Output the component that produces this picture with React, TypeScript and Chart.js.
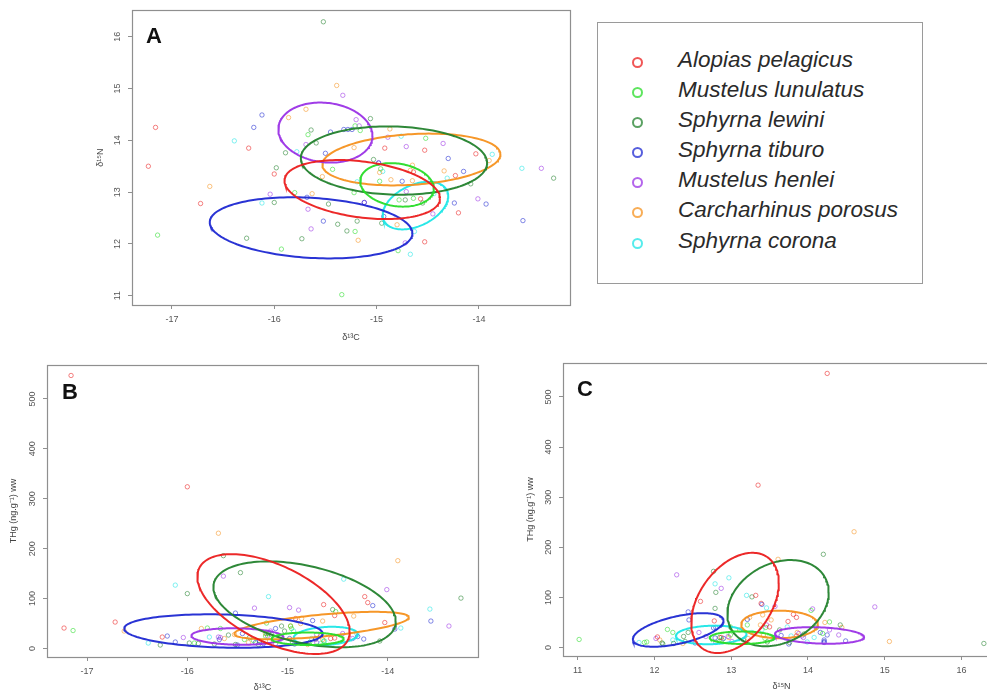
import React, { useEffect, useRef } from "react";
import { Chart, registerables } from "chart.js";
Chart.register(...registerables);

// ---------- categories / styling ----------
const speciesNames = [
  "Alopias pelagicus",
  "Mustelus lunulatus",
  "Sphyrna lewini",
  "Sphyrna tiburo",
  "Mustelus henlei",
  "Carcharhinus porosus",
  "Sphyrna corona",
];
const speciesRGB = [
  "235,30,30",
  "40,220,40",
  "35,130,45",
  "30,40,210",
  "155,50,230",
  "245,145,30",
  "30,230,230",
];

// ---------- specimen data (δ13C, δ15N, THg) ----------
const alopiasC13 = [-17.16, -17.23, -16.25, -16.0, -16.72, -14.92, -14.53, -14.03, -14.23, -14.57, -14.2, -14.53, -14.64];
const alopiasN15 = [14.25, 13.5, 13.85, 13.35, 12.78, 13.85, 13.81, 13.74, 13.32, 12.87, 12.6, 12.04, 13.39];
const alopiasTHg = [547, 41, 23, 324, 53, 60, 66, 52, 104, 20, 92, 21, 88];

const lunulatusC13 = [-15.67, -15.21, -15.16, -14.52, -14.96, -14.97, -14.78, -14.64, -14.79, -15.8, -15.21, -15.22, -15.93, -17.14, -15.34, -15.43];
const lunulatusN15 = [14.11, 14.28, 14.19, 14.04, 13.45, 13.21, 12.85, 12.88, 11.87, 12.99, 12.24, 12.99, 11.9, 12.17, 11.02, 13.44];
const lunulatusTHg = [40, 51, 28, 74, 40, 45, 12, 15, 10, 41, 30, 25, 11, 36, 16, 18];

const lewiniC13 = [-15.59, -15.89, -15.06, -15.03, -14.08, -13.27, -14.72, -14.55, -14.95, -15.98, -16.0, -15.38, -15.29, -15.19, -16.27, -15.73, -15.52, -15.64, -15.47];
const lewiniN15 = [13.95, 13.76, 14.42, 13.63, 13.16, 13.27, 12.85, 12.79, 12.4, 13.47, 12.8, 12.38, 12.25, 12.44, 12.11, 12.1, 16.29, 14.2, 12.77];
const lewiniTHg = [27, 10, 45, 35, 15, 101, 20, 78, 12, 11, 110, 22, 8, 30, 7, 9, 8, 186, 152];

const tiburoC13 = [-16.12, -16.2, -15.5, -15.45, -15.32, -15.28, -15.24, -14.3, -14.98, -14.75, -14.15, -14.24, -13.93, -13.57, -14.93, -15.68, -15.12, -15.52];
const tiburoN15 = [14.49, 14.25, 13.75, 14.16, 14.21, 14.21, 14.21, 13.65, 13.56, 13.21, 13.4, 12.79, 12.77, 12.45, 12.53, 12.9, 12.8, 12.44];
const tiburoTHg = [13, 25, 7, 30, 12, 15, 10, 24, 20, 56, 86, 19, 39, 55, 9, 18, 40, 71];

const henleiC13 = [-15.33, -15.69, -15.2, -15.17, -14.89, -14.71, -14.35, -14.98, -13.39, -14.71, -14.45, -14.01, -14.72, -16.04, -15.67, -15.64, -15.12];
const henleiN15 = [14.87, 13.92, 14.4, 14.28, 14.06, 13.88, 13.94, 13.57, 13.46, 13.01, 12.58, 12.87, 12.02, 12.96, 12.67, 12.29, 12.8];
const henleiTHg = [81, 23, 25, 35, 77, 28, 20, 82, 45, 12, 30, 118, 18, 22, 22, 145, 10];

const porosusC13 = [-15.39, -15.86, -15.69, -15.22, -14.87, -13.9, -14.86, -14.65, -14.67, -14.65, -14.34, -14.8, -16.63, -15.63, -15.18, -15.53, -14.97];
const porosusN15 = [15.06, 14.44, 14.6, 13.86, 14.22, 13.61, 13.24, 13.52, 13.42, 13.22, 13.41, 12.37, 13.11, 12.97, 12.07, 13.3, 13.38];
const porosusTHg = [12, 40, 231, 30, 50, 176, 60, 55, 25, 18, 65, 8, 35, 20, 15, 28, 45];

const coronaC13 = [-16.39, -15.78, -14.76, -13.87, -14.94, -14.31, -13.58, -14.67, -14.63, -16.12, -15.19, -14.44];
const coronaN15 = [13.99, 13.78, 14.08, 13.73, 13.4, 13.27, 13.46, 11.8, 12.24, 12.79, 13.2, 12.97];
const coronaTHg = [11, 23, 20, 41, 35, 30, 79, 10, 15, 127, 104, 139];

// ---------- ellipse parameters (per species, same order) ----------
const meanC13 = [-15.14, -14.8, -14.83, -15.64, -15.5, -14.66, -14.62];
const halfC13 = [0.76, 0.36, 0.91, 0.99, 0.46, 0.87, 0.32];
const meanN15 = [13.05, 13.14, 13.61, 12.31, 14.15, 13.63, 12.74];
const halfN15 = [0.57, 0.42, 0.66, 0.59, 0.58, 0.5, 0.46];
const meanTHg = [89, 19.5, 88.5, 35, 24, 46, 25];
const halfTHg = [100, 12.5, 86, 33.5, 16.5, 27.5, 18.5];
const rhoCN = [-0.3, -0.17, -0.07, -0.18, -0.11, 0.2, 0.4];
const rhoCHg = [-0.55, 0, -0.4, -0.15, -0.1, 0.6, 0.2];
const rhoNHg = [0.4, 0, 0.25, 0.55, -0.2, 0, 0.1];

// ---------- tick labels ----------
const c13Ticks = [-17, -16, -15, -14];
const n15Ticks = [11, 12, 13, 14, 15, 16];
const thgTicks = [0, 100, 200, 300, 400, 500];

const c13Sets = [alopiasC13, lunulatusC13, lewiniC13, tiburoC13, henleiC13, porosusC13, coronaC13];
const n15Sets = [alopiasN15, lunulatusN15, lewiniN15, tiburoN15, henleiN15, porosusN15, coronaN15];
const thgSets = [alopiasTHg, lunulatusTHg, lewiniTHg, tiburoTHg, henleiTHg, porosusTHg, coronaTHg];

const FRAME = "#8f8f8f";
const TICKCOL = "#555";
const FONT = "'Liberation Sans', Arial, sans-serif";

type VarKey = "C" | "N" | "H";

function valuesOf(k: VarKey) {
  return k === "C" ? c13Sets : k === "N" ? n15Sets : thgSets;
}
function meanOf(k: VarKey) {
  return k === "C" ? meanC13 : k === "N" ? meanN15 : meanTHg;
}
function halfOf(k: VarKey) {
  return k === "C" ? halfC13 : k === "N" ? halfN15 : halfTHg;
}
function rhoOf(a: VarKey, b: VarKey) {
  const key = a + b;
  if (key === "CN") return rhoCN;
  if (key === "CH") return rhoCHg;
  return rhoNHg;
}

function ellipse(cx: number, hx: number, cy: number, hy: number, rho: number) {
  const pts: { x: number; y: number }[] = [];
  const s = Math.sqrt(1 - rho * rho);
  const n = 160;
  for (let i = 0; i <= n; i++) {
    const t = (i / n) * 2 * Math.PI;
    pts.push({ x: cx + hx * Math.cos(t), y: cy + hy * (rho * Math.cos(t) + s * Math.sin(t)) });
  }
  return pts;
}

const framePlugin = {
  id: "frame",
  afterDraw(chart: any) {
    const { ctx, chartArea: a } = chart;
    ctx.save();
    ctx.strokeStyle = FRAME;
    ctx.lineWidth = 1.2;
    ctx.strokeRect(Math.round(a.left) + 0.5, Math.round(a.top) + 0.5, Math.round(a.width), Math.round(a.height));
    ctx.restore();
  },
};

type PanelSpec = {
  xKey: VarKey;
  yKey: VarKey;
  xMin: number;
  xMax: number;
  yMin: number;
  yMax: number;
  xTicks: number[];
  yTicks: number[];
  xTitle: string;
  yTitle: string;
  yAxisWidth: number;
  xAxisHeight: number;
  padding: { left: number; right: number; top: number; bottom: number };
  yTitlePad: number;
  xTitlePad: number;
  yTickPad: number;
  xTickPad: number;
};

function makeChart(canvas: HTMLCanvasElement, p: PanelSpec) {
  const xs = valuesOf(p.xKey);
  const ys = valuesOf(p.yKey);
  const datasets: any[] = [];
  speciesNames.forEach((name, i) => {
    datasets.push({
      label: name,
      data: xs[i].map((v, j) => ({ x: v, y: ys[i][j] })),
      showLine: false,
      pointRadius: 2.2,
      pointBorderWidth: 1,
      pointBackgroundColor: "rgba(0,0,0,0)",
      pointBorderColor: `rgba(${speciesRGB[i]},0.55)`,
      order: 2,
    });
  });
  speciesNames.forEach((name, i) => {
    datasets.push({
      label: name + " ellipse",
      data: ellipse(meanOf(p.xKey)[i], halfOf(p.xKey)[i], meanOf(p.yKey)[i], halfOf(p.yKey)[i], rhoOf(p.xKey, p.yKey)[i]),
      showLine: true,
      pointRadius: 0,
      borderWidth: 2,
      borderColor: `rgba(${speciesRGB[i]},0.95)`,
      tension: 0,
      fill: false,
      order: 1,
    });
  });

  const tickFont = { family: FONT, size: 9 };
  const titleFont = { family: FONT, size: 9 };
  return new Chart(canvas, {
    type: "scatter",
    data: { datasets },
    options: {
      animation: false,
      responsive: false,
      layout: { padding: p.padding },
      plugins: { legend: { display: false }, tooltip: { enabled: false } },
      scales: {
        x: {
          type: "linear",
          min: p.xMin,
          max: p.xMax,
          afterBuildTicks: (s: any) => {
            s.ticks = p.xTicks.map((v) => ({ value: v }));
          },
          afterFit: (s: any) => {
            s.height = p.xAxisHeight;
          },
          border: { display: false },
          grid: { display: true, drawOnChartArea: false, drawTicks: true, tickLength: 4, color: FRAME, lineWidth: 1 },
          ticks: { font: tickFont, color: TICKCOL, padding: p.xTickPad, maxRotation: 0, callback: (v: any) => String(v) },
          title: { display: true, text: p.xTitle, font: titleFont, color: "#444", padding: { top: 0, bottom: p.xTitlePad } },
        },
        y: {
          type: "linear",
          min: p.yMin,
          max: p.yMax,
          afterBuildTicks: (s: any) => {
            s.ticks = p.yTicks.map((v) => ({ value: v }));
          },
          afterFit: (s: any) => {
            s.width = p.yAxisWidth;
          },
          border: { display: false },
          grid: { display: true, drawOnChartArea: false, drawTicks: true, tickLength: 4, color: FRAME, lineWidth: 1 },
          ticks: {
            font: tickFont,
            color: TICKCOL,
            padding: p.yTickPad,
            minRotation: 90,
            maxRotation: 90,
            crossAlign: "center",
            callback: (v: any) => String(v),
          },
          title: { display: true, text: p.yTitle, font: titleFont, color: "#444", padding: { top: p.yTitlePad, bottom: 0 } },
        },
      },
    } as any,
    plugins: [framePlugin],
  });
}

const panelA: PanelSpec = {
  xKey: "C",
  yKey: "N",
  xMin: -17.39,
  xMax: -13.11,
  yMin: 10.82,
  yMax: 16.51,
  xTicks: c13Ticks,
  yTicks: n15Ticks,
  xTitle: "δ¹³C",
  yTitle: "δ¹⁵N",
  yAxisWidth: 52,
  xAxisHeight: 45,
  padding: { left: 0, right: 10, top: 9, bottom: 0 },
  yTitlePad: 15.6,
  xTitlePad: 6.6,
  yTickPad: 5,
  xTickPad: 5,
};

const panelB: PanelSpec = {
  xKey: "C",
  yKey: "H",
  xMin: -17.4,
  xMax: -13.1,
  yMin: -17,
  yMax: 568,
  xTicks: c13Ticks,
  yTicks: thgTicks,
  xTitle: "δ¹³C",
  yTitle: "THg (ng.g⁻¹) ww",
  yAxisWidth: 47,
  xAxisHeight: 37,
  padding: { left: 0, right: 12, top: 10, bottom: 0 },
  yTitlePad: 8.6,
  xTitlePad: 0.6,
  yTickPad: 2.5,
  xTickPad: 5,
};

const panelC: PanelSpec = {
  xKey: "N",
  yKey: "H",
  xMin: 10.81,
  xMax: 16.5,
  yMin: -17,
  yMax: 568,
  xTicks: n15Ticks,
  yTicks: thgTicks,
  xTitle: "δ¹⁵N",
  yTitle: "THg (ng.g⁻¹) ww",
  yAxisWidth: 53,
  xAxisHeight: 38,
  padding: { left: 0, right: 40, top: 7, bottom: 0 },
  yTitlePad: 15.6,
  xTitlePad: 1.6,
  yTickPad: 2.5,
  xTickPad: 5,
};

const legendRowsY = [62, 92, 122, 152, 182, 212, 243];

export default function App() {
  const refA = useRef<HTMLCanvasElement>(null);
  const refB = useRef<HTMLCanvasElement>(null);
  const refC = useRef<HTMLCanvasElement>(null);

  useEffect(() => {
    const charts = [
      makeChart(refA.current!, panelA),
      makeChart(refB.current!, panelB),
      makeChart(refC.current!, panelC),
    ];
    return () => charts.forEach((c) => c.destroy());
  }, []);

  const letter = (t: string, x: number, y: number) => (
    <div
      style={{
        position: "absolute",
        left: x,
        top: y,
        transform: "translate(-50%,-50%)",
        font: `bold 22px ${FONT}`,
        lineHeight: "22px",
        color: "#111",
      }}
    >
      {t}
    </div>
  );

  return (
    <div
      style={{
        position: "fixed",
        left: 0,
        top: 0,
        width: 987,
        height: 694,
        overflow: "hidden",
        background: "#fff",
        fontFamily: FONT,
      }}
    >
      <canvas ref={refA} width={500} height={350} style={{ position: "absolute", left: 80, top: 0, width: 500, height: 350 }} />
      <canvas ref={refB} width={490} height={339} style={{ position: "absolute", left: 0, top: 355, width: 490, height: 339 }} />
      <canvas ref={refC} width={530} height={339} style={{ position: "absolute", left: 510, top: 355, width: 530, height: 339 }} />
      {letter("A", 154, 36)}
      {letter("B", 70, 392)}
      {letter("C", 585, 389)}
      <div
        style={{
          position: "absolute",
          left: 597,
          top: 22,
          width: 326,
          height: 262,
          border: "1px solid #9a9a9a",
          boxSizing: "border-box",
        }}
      />
      {speciesNames.map((name, i) => (
        <React.Fragment key={name}>
          <div
            style={{
              position: "absolute",
              left: 637 - 5.5,
              top: legendRowsY[i] - 5.5,
              width: 11,
              height: 11,
              borderRadius: "50%",
              border: `2px solid rgba(${speciesRGB[i]},0.75)`,
              boxSizing: "border-box",
            }}
          />
          <div
            style={{
              position: "absolute",
              left: 678,
              top: legendRowsY[i] - 15,
              height: 30,
              lineHeight: "30px",
              font: `italic 22.5px ${FONT}`,
              color: "#2a2a2a",
              whiteSpace: "nowrap",
            }}
          >
            {name}
          </div>
        </React.Fragment>
      ))}
    </div>
  );
}
